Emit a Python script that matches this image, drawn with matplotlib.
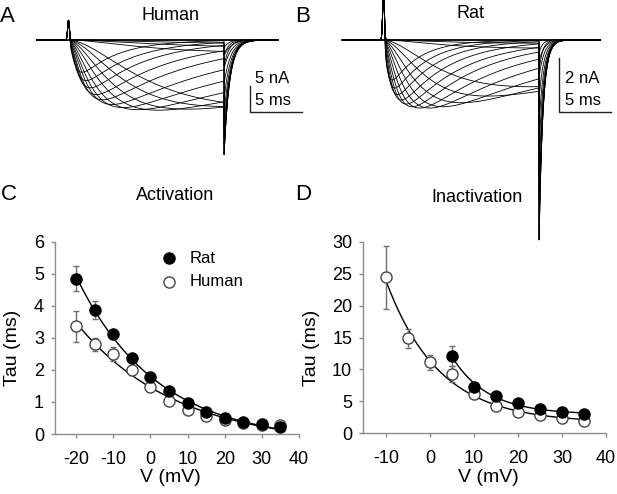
import numpy as np
import matplotlib
matplotlib.use("Agg")
import matplotlib.pyplot as plt

plt.rcParams["font.family"] = ["Liberation Sans", "DejaVu Sans"]
plt.rcParams["axes.unicode_minus"] = False

# ---- panel C: activation tau (ms) ----
v_act = [-20, -15, -10, -5, 0, 5, 10, 15, 20, 25, 30, 35]
rat_act = [4.85, 3.87, 3.11, 2.36, 1.78, 1.35, 0.97, 0.70, 0.51, 0.36, 0.31, 0.23]
rat_act_err = [0.38, 0.28, 0.15, 0.12, 0.10, 0.08, 0.06, 0.05, 0.04, 0.03, 0.03, 0.03]
hum_act = [3.36, 2.80, 2.49, 2.00, 1.46, 1.02, 0.75, 0.57, 0.44, 0.35, 0.29, 0.27]
hum_act_err = [0.48, 0.20, 0.22, 0.15, 0.10, 0.08, 0.06, 0.05, 0.04, 0.03, 0.03, 0.03]

# ---- panel D: inactivation tau (ms) ----
v_inact_hum = [-10, -5, 0, 5, 10, 15, 20, 25, 30, 35]
hum_inact = [24.4, 14.9, 11.1, 9.3, 6.2, 4.2, 3.3, 2.8, 2.35, 2.0]
hum_inact_err = [4.9, 1.5, 1.2, 1.2, 0.5, 0.4, 0.3, 0.3, 0.3, 0.3]
v_inact_rat = [5, 10, 15, 20, 25, 30, 35]
rat_inact = [12.1, 7.3, 5.9, 4.75, 3.8, 3.3, 3.0]
rat_inact_err = [1.5, 0.6, 0.4, 0.3, 0.3, 0.3, 0.3]

# ---- panels A/B: current sweeps (per sweep kinetics, ms and nA) ----
hum_tm = [9, 7.5, 6.0, 6.0, 4.5, 3.5, 2.8, 2.2, 1.8, 1.5, 1.2, 1.0, 0.8, 0.65, 0.5]
hum_th = [300, 250, 200, 150, 70, 45, 30, 22, 16, 12, 9, 7, 5.5, 4.5, 3.5]
hum_peak = [0.6, 1.2, 2.2, 12.0, 12.8, 13.3, 13.5, 13.4, 13.0, 12.4, 11.5, 10.5, 9.2, 7.8, 6.2]
hum_tail = [1.5, 3, 5, 22.5, 22.5, 22.3, 21.5, 20.5, 19, 17, 14.5, 11.5, 8.5, 5.5, 3]
hum_cap = 3.8

rat_tm = [6, 5.5, 5.0, 3.8, 2.9, 2.3, 1.8, 1.4, 1.1, 0.85, 0.65, 0.5, 0.4, 0.3]
rat_th = [60, 50, 40, 25, 18, 13, 10, 8, 6.5, 5.5, 4.6, 3.8, 3.2, 2.7]
rat_peak = [0.12, 0.3, 1.75, 2.1, 2.35, 2.5, 2.55, 2.55, 2.5, 2.4, 2.25, 2.05, 1.8, 1.5]
rat_tail = [0.5, 1.2, 7.7, 7.7, 7.6, 7.3, 6.9, 6.1, 5.2, 4.2, 3.2, 2.2, 1.4, 0.8]
rat_cap = 1.8

step_len = 15.0

W, H = 617, 494
fig = plt.figure(figsize=(W / 100, H / 100), dpi=100)


def box(l, t, r, b):
    return [l / W, 1 - b / H, (r - l) / W, (b - t) / H]


def ftext(px, py, s, **kw):
    fig.text(px / W, 1 - py / H, s, ha="center", va="center", **kw)


def sweep(t, tm, th, peak, tail, ttail, cap):
    on = (t >= 0) & (t < step_len)
    f = (1 - np.exp(-t[on] / tm)) ** 2 * np.exp(-t[on] / th)
    i = np.zeros_like(t)
    i[on] = -peak * f / f.max()
    off = t >= step_len
    i[off] = -tail * np.exp(-(t[off] - step_len) / ttail)
    i += cap * np.exp(-((t - 0.05) / 0.12) ** 2)
    return i


def exp_fit(x, y):
    x = np.asarray(x, float)
    y = np.asarray(y, float)
    best = None
    for k in np.linspace(2, 80, 600):
        A = np.column_stack([np.exp(-(x - x[0]) / k), np.ones_like(x)])
        coef, *_ = np.linalg.lstsq(A, y, rcond=None)
        r = np.sum((A @ coef - y) ** 2)
        if best is None or r < best[0]:
            best = (r, k, coef)
    _, k, (a, c) = best
    xs = np.linspace(x[0], x[-1], 200)
    return xs, a * np.exp(-(xs - x[0]) / k) + c


# ---- A: human sweeps ----
axA = fig.add_axes(box(30, 5, 310, 170))
axA.axis("off")
pxms = 10.4
axA.set_xlim((30 - 68) / pxms, (310 - 68) / pxms)
axA.set_ylim(-(170 - 40) / 5.2, (40 - 5) / 5.2)
t = np.arange(-3.0, 20.2, 0.01)
for n in range(len(hum_tm)):
    ttail = 0.45 + 0.25 * n / len(hum_tm)
    axA.plot(t, sweep(t, hum_tm[n], hum_th[n], hum_peak[n], hum_tail[n], ttail, hum_cap),
             color="black", lw=0.6)
axA.plot([-3.0, 20.2], [0, 0], color="black", lw=1.3)
x0 = (250 - 68) / pxms
axA.plot([x0, x0, x0 + 5], [-8.79, -13.79, -13.79], color="#222222", lw=1, clip_on=False)
axA.text(x0 + 0.5, -7.4, "5 nA", fontsize=12, va="center")
axA.text(x0 + 0.5, -11.6, "5 ms", fontsize=12, va="center")

# ---- B: rat sweeps ----
axB = fig.add_axes(box(335, 0, 617, 260))
axB.axis("off")
axB.set_xlim((335 - 383) / pxms, (617 - 383) / pxms)
axB.set_ylim(-(260 - 40) / 26.7, 40 / 26.7)
t = np.arange(-3.9, 20.9, 0.01)
for n in range(len(rat_tm)):
    ttail = 0.32 + 0.2 * n / len(rat_tm)
    axB.plot(t, sweep(t, rat_tm[n], rat_th[n], rat_peak[n], rat_tail[n], ttail, rat_cap),
             color="black", lw=0.6)
axB.plot([-3.9, 20.9], [0, 0], color="black", lw=1.3)
x0 = (559 - 383) / pxms
axB.plot([x0, x0, x0 + 5], [-0.685, -2.685, -2.685], color="#222222", lw=1, clip_on=False)
axB.text(x0 + 0.55, -1.44, "2 nA", fontsize=12, va="center")
axB.text(x0 + 0.55, -2.25, "5 ms", fontsize=12, va="center")


def style(ax):
    for s in ["top", "right"]:
        ax.spines[s].set_visible(False)
    for s in ["left", "bottom"]:
        ax.spines[s].set_color("#8c8c8c")
        ax.spines[s].set_linewidth(1)
    ax.tick_params(direction="out", length=3, width=1, color="#8c8c8c", labelsize=13)
    ax.tick_params(axis="x", pad=9)
    ax.tick_params(axis="y", pad=5)


def plot_series(ax, x, y, err, filled, z):
    ax.errorbar(x, y, yerr=err, fmt="none", ecolor="#6e6e6e", elinewidth=1,
                capsize=2.5, capthick=1, zorder=z)
    if filled:
        ax.plot(x, y, "o", ms=8, mfc="black", mec="black", zorder=z + 1)
    else:
        ax.plot(x, y, "o", ms=8, mfc="white", mec="#444444", mew=1, zorder=z + 1)
    xs, ys = exp_fit(x, y)
    ax.plot(xs, ys, color="black", lw=1, zorder=2)


# ---- C: activation ----
axC = fig.add_axes(box(55, 241.7, 299, 434))
style(axC)
plot_series(axC, v_act, hum_act, hum_act_err, False, 3)
plot_series(axC, v_act, rat_act, rat_act_err, True, 5)
axC.set_xlim(-25.7, 40)
axC.set_ylim(0, 6)
axC.set_xticks([-20, -10, 0, 10, 20, 30, 40])
axC.set_yticks([0, 1, 2, 3, 4, 5, 6])
axC.plot([0.468], [0.914], "o", ms=8, mfc="black", mec="black", transform=axC.transAxes, clip_on=False)
axC.plot([0.468], [0.792], "o", ms=8, mfc="white", mec="#444444", transform=axC.transAxes, clip_on=False)
axC.text(0.553, 0.914, "Rat", fontsize=12, va="center", transform=axC.transAxes)
axC.text(0.553, 0.792, "Human", fontsize=12, va="center", transform=axC.transAxes)

# ---- D: inactivation ----
axD = fig.add_axes(box(363.3, 241.7, 606, 433.3))
style(axD)
plot_series(axD, v_inact_hum, hum_inact, hum_inact_err, False, 3)
plot_series(axD, v_inact_rat, rat_inact, rat_inact_err, True, 5)
axD.set_xlim(-15.2, 40)
axD.set_ylim(0, 30)
axD.set_xticks([-10, 0, 10, 20, 30, 40])
axD.set_yticks([0, 5, 10, 15, 20, 25, 30])

# ---- text ----
ftext(7.5, 16, "A", fontsize=16)
ftext(302.5, 16, "B", fontsize=16)
ftext(9, 194, "C", fontsize=16)
ftext(303, 194, "D", fontsize=16)
ftext(171, 15, "Human", fontsize=13)
ftext(471, 14, "Rat", fontsize=13)
ftext(175, 196, "Activation", fontsize=13)
ftext(477, 197, "Inactivation", fontsize=13)
ftext(12.5, 348, "Tau (ms)", fontsize=14, rotation=90)
ftext(311, 348, "Tau (ms)", fontsize=14, rotation=90)
ftext(170, 477, "V (mV)", fontsize=14)
ftext(488, 477, "V (mV)", fontsize=14)

fig.savefig("out.png", dpi=100)
